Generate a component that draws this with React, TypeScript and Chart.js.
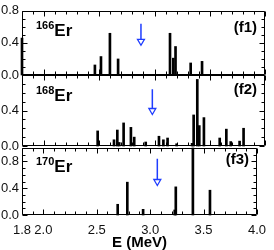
import React, { useEffect, useRef } from "react";
import { Chart, registerables } from "chart.js";
Chart.register(...registerables);

// Panel (f1): 166Er
const E_166 = [1.8, 2.46, 2.515, 2.596, 2.67, 3.14, 3.17, 3.19, 3.327, 3.43];
const B_166 = [0.46, 0.125, 0.23, 0.52, 0.2, 0.52, 0.21, 0.355, 0.15, 0.17];
// Panel (f2): 168Er
const E_168 = [2.485, 2.633, 2.663, 2.68, 2.72, 2.786, 2.816, 2.92, 3.04, 3.08, 3.118, 3.2, 3.34, 3.354, 3.387, 3.405, 3.447, 3.59, 3.65, 3.69, 3.77, 3.806];
const B_168 = [0.17, 0.07, 0.18, 0.04, 0.26, 0.21, 0.1, 0.045, 0.11, 0.07, 0.09, 0.025, 0.03, 0.35, 0.75, 0.23, 0.32, 0.09, 0.19, 0.05, 0.055, 0.2];
// Panel (f3): 170Er
const E_170 = [2.696, 2.786, 2.934, 3.23, 3.24, 3.4, 3.56];
const B_170 = [0.16, 0.49, 0.085, 0.075, 0.42, 1.0, 0.37];

const ENERGIES = [E_166, E_168, E_170];
const STRENGTHS = [B_166, B_168, B_170];
const ARROW_E = [2.877, 2.98, 3.067];
const ARROW_START = [0.64, 0.64, 0.84];
const ARROW_HEAD = [0.42, 0.4, 0.5];

const MASSES = ["166", "168", "170"];
const TAGS = ["(f1)", "(f2)", "(f3)"];
const X_TICKS = [1.8, 2.0, 2.5, 3.0, 3.5, 4.0];
const Y_MAX = [0.8, 0.8, 1.0];
const Y_TICKS = [[0, 0.4, 0.8], [0, 0.4], [0, 0.4, 0.8]];
const X_TITLE = "E (MeV)";

const FONT = '"Liberation Sans", Arial, Helvetica, sans-serif';
const PAD_TOP = [5, 75, 148];
const PAD_BOTTOM = [175, 104, 0];
const TAG_Y = [21, 19, 16];
const ISO_Y = [25, 26, 24];

const framePlugin = {
  id: "frameTicks",
  afterDatasetsDraw(chart: any, _args: any, opts: any) {
    const { ctx, chartArea: a, scales } = chart;
    const xs = scales.x;
    const ys = scales.y;
    const L = Math.round(a.left) + 0.5;
    const R = Math.round(a.right) - 0.5;
    const T = Math.round(a.top) + 0.5;
    const B = Math.round(a.bottom) - 0.5;
    ctx.save();
    ctx.strokeStyle = "#000";
    ctx.lineWidth = 1;
    ctx.beginPath();
    ctx.rect(L, T, R - L, B - T);
    for (let k = 18; k <= 40; k++) {
      const px = Math.round(xs.getPixelForValue(k / 10)) + 0.5;
      const len = k % 5 === 0 ? 5 : 3;
      ctx.moveTo(px, B);
      ctx.lineTo(px, B - len);
      ctx.moveTo(px, T);
      ctx.lineTo(px, T + len);
    }
    const kmax = Math.round(ys.max * 10);
    for (let k = 0; k <= kmax; k++) {
      const py = Math.round(ys.getPixelForValue(k / 10)) + 0.5;
      const len = k % 4 === 0 ? 5 : 3;
      ctx.moveTo(L, py);
      ctx.lineTo(L + len, py);
      ctx.moveTo(R, py);
      ctx.lineTo(R - len, py);
    }
    ctx.stroke();

    ctx.fillStyle = "#000";
    ctx.textBaseline = "alphabetic";
    ctx.textAlign = "left";
    ctx.font = `bold 11px ${FONT}`;
    const x0 = a.left + 14;
    ctx.fillText(opts.mass, x0, a.top + opts.isoY - 7);
    const w = ctx.measureText(opts.mass).width;
    ctx.font = `bold 17px ${FONT}`;
    ctx.fillText("Er", x0 + w, a.top + opts.isoY);
    ctx.font = `bold 15px ${FONT}`;
    ctx.textAlign = "right";
    ctx.fillText(opts.tag, a.right - 8, a.top + opts.tagY);
    ctx.restore();
  },
};

function makeConfig(i: number): any {
  const last = i === 2;
  const blue = "#1f3dff";
  return {
    type: "bar",
    data: {
      datasets: [
        {
          type: "bar",
          data: ENERGIES[i].map((e, j) => ({ x: e, y: STRENGTHS[i][j] })),
          backgroundColor: "#000",
          borderWidth: 0,
          barThickness: 2,
          clip: false,
        },
        {
          type: "line",
          data: [
            { x: ARROW_E[i], y: ARROW_START[i] },
            { x: ARROW_E[i], y: ARROW_HEAD[i] },
          ],
          borderColor: blue,
          borderWidth: 1.5,
          pointRadius: [0, 4],
          pointStyle: "triangle",
          rotation: 180,
          pointBackgroundColor: "#fff",
          pointBorderColor: blue,
          pointBorderWidth: 1.3,
          fill: false,
        },
      ],
    },
    options: {
      responsive: false,
      animation: false,
      events: [],
      layout: {
        autoPadding: false,
        padding: { top: PAD_TOP[i], bottom: PAD_BOTTOM[i], left: 0, right: 9 },
      },
      plugins: {
        legend: { display: false },
        tooltip: { enabled: false },
        frameTicks: { mass: MASSES[i], tag: TAGS[i], tagY: TAG_Y[i], isoY: ISO_Y[i] },
      },
      scales: {
        x: {
          type: "linear",
          display: last,
          min: 1.8,
          max: 4.0,
          offset: false,
          grid: { display: false, drawTicks: false },
          border: { display: false },
          afterBuildTicks: (s: any) => {
            s.ticks = X_TICKS.map((v) => ({ value: v }));
          },
          afterFit: (s: any) => {
            s.height = last ? 35 : 0;
          },
          ticks: {
            autoSkip: false,
            maxRotation: 0,
            padding: 8,
            color: "#111",
            font: { family: FONT, size: 13 },
            callback: (v: any) => Number(v).toFixed(1),
          },
          title: {
            display: last,
            text: X_TITLE,
            color: "#000",
            padding: { top: 0, bottom: 0 },
            font: { family: FONT, size: 15, weight: "bold", lineHeight: 1 },
          },
        },
        y: {
          type: "linear",
          min: 0,
          max: Y_MAX[i],
          grid: { display: false, drawTicks: false },
          border: { display: false },
          afterBuildTicks: (s: any) => {
            s.ticks = Y_TICKS[i].map((v) => ({ value: v }));
          },
          afterFit: (s: any) => {
            s.width = 22;
          },
          ticks: {
            padding: 3,
            color: "#111",
            font: { family: FONT, size: 13 },
            callback: (v: any) => Number(v).toFixed(1),
          },
        },
      },
    },
    plugins: [framePlugin],
  };
}

export default function App() {
  const r0 = useRef<HTMLCanvasElement>(null);
  const r1 = useRef<HTMLCanvasElement>(null);
  const r2 = useRef<HTMLCanvasElement>(null);
  useEffect(() => {
    const refs = [r0, r1, r2];
    const charts = refs.map((r, i) => new Chart(r.current as HTMLCanvasElement, makeConfig(i)));
    return () => charts.forEach((c) => c.destroy());
  }, []);
  const style: React.CSSProperties = { position: "absolute", left: 0, top: 0 };
  return (
    <div style={{ position: "fixed", left: 0, top: 0, width: 274, height: 250, background: "#fff" }}>
      <canvas ref={r0} width={274} height={250} style={style} />
      <canvas ref={r1} width={274} height={250} style={style} />
      <canvas ref={r2} width={274} height={250} style={style} />
    </div>
  );
}
